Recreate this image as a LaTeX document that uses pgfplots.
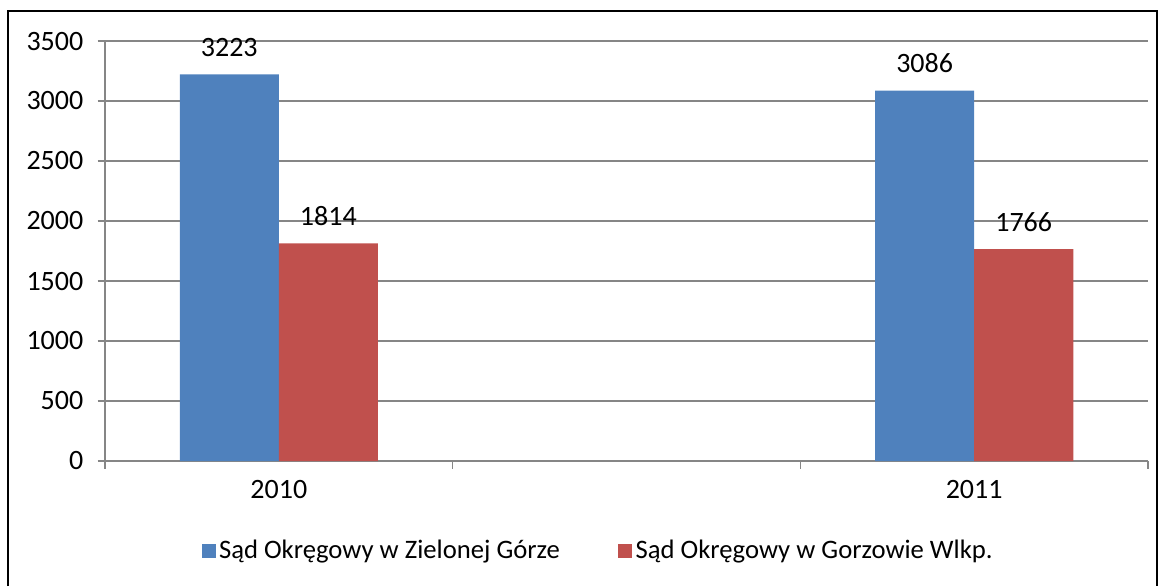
\documentclass[border=0pt]{standalone}
\usepackage{pgfplots}
\pgfplotsset{compat=1.18}
\usepackage{fontspec}
\setmainfont{Carlito}
\definecolor{zgblue}{HTML}{4F81BD}
\definecolor{gwred}{HTML}{C0504D}
\definecolor{gridgray}{HTML}{868686}
\begin{document}
\begin{tikzpicture}
\useasboundingbox (0,0) rectangle (700.2pt,351.6pt);
% outer frame (bottom edge falls outside the picture)
\draw[black, line width=1.2pt] (4.8pt,0) -- (4.8pt,345pt) -- (694.2pt,345pt) -- (694.2pt,0);
\begin{axis}[
    at={(63pt,75pt)}, anchor=south west,
    scale only axis, width=625.8pt, height=252pt,
    ybar=0pt, bar width=0.285,
    xmin=0, xmax=3, ymin=0, ymax=3500,
    axis x line=bottom, axis y line=left,
    axis line style={gridgray, line width=0.9pt, -},
    xtick={0,1,2,3}, xticklabels={},
    extra x ticks={0.5,2.5}, extra x tick labels={2010,2011},
    extra x tick style={major tick length=0pt, xticklabel style={yshift=-8pt}},
    ytick={0,500,...,3500},
    ymajorgrids, grid style={gridgray, line width=0.9pt},
    tick align=outside, major tick length=4.5pt,
    tick style={gridgray, line width=0.9pt},
    yticklabel style={xshift=-5pt},
    ticklabel style={font=\fontsize{16.8}{18}\selectfont, text=black},
    /pgf/number format/assume math mode=true,
    /pgf/number format/1000 sep={},
    nodes near coords,
    nodes near coords style={font=\fontsize{16.8}{18}\selectfont, text=black, yshift=7pt},
    legend style={at={(0.4735,-0.214)}, anchor=center, draw=none,
        font=\fontsize{16}{18}\selectfont,
        /tikz/every even column/.append style={column sep=33pt}},
    legend columns=2,
    legend image code/.code={\fill[#1] (0pt,-4.2pt) rectangle (8.4pt,4.2pt);},
]
\addplot[fill=zgblue, draw=none] coordinates {(0.5,3223) (2.5,3086)};
\addplot[fill=gwred, draw=none] coordinates {(0.5,1814) (2.5,1766)};
\legend{Sąd Okręgowy w Zielonej Górze, Sąd Okręgowy w Gorzowie Wlkp.}
\end{axis}
\end{tikzpicture}
\end{document}
